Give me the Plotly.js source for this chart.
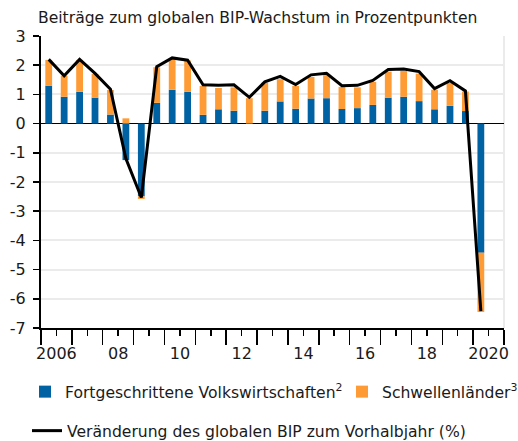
<!DOCTYPE html>
<html>
<head>
<meta charset="utf-8">
<script src="https://cdn.plot.ly/plotly-3.0.1.min.js"></script>
<style>html,body{margin:0;padding:0;background:#fff;}#chart{width:518px;height:441px;}</style>
</head>
<body>
<div id="chart"></div>
<script>
// Half-year periods
const periods = ['2006-H1','2006-H2','2007-H1','2007-H2','2008-H1','2008-H2','2009-H1','2009-H2',
  '2010-H1','2010-H2','2011-H1','2011-H2','2012-H1','2012-H2','2013-H1','2013-H2','2014-H1','2014-H2',
  '2015-H1','2015-H2','2016-H1','2016-H2','2017-H1','2017-H2','2018-H1','2018-H2','2019-H1','2019-H2','2020-H1'];
// Contributions of advanced economies (percentage points)
const advanced = [1.30,0.92,1.09,0.89,0.31,-1.25,-2.49,0.71,1.16,1.09,0.30,0.49,0.44,0.00,0.44,0.76,0.51,0.86,
  0.87,0.50,0.53,0.64,0.89,0.92,0.77,0.49,0.61,0.43,-4.42];
// Contributions of emerging economies (percentage points)
const emerging = [0.88,0.72,1.09,0.81,0.84,0.18,-0.09,1.22,1.05,1.07,0.99,0.73,0.80,0.87,0.96,0.76,0.78,0.74,
  0.79,0.76,0.71,0.79,0.89,0.88,0.94,0.67,0.78,0.67,-2.03];
// Change of global GDP vs previous half-year (%)
const globalGdp = [2.20,1.64,2.20,1.72,1.18,-1.20,-2.53,1.95,2.25,2.17,1.33,1.31,1.33,0.90,1.43,1.62,1.34,1.67,
  1.72,1.30,1.31,1.48,1.85,1.87,1.78,1.20,1.47,1.12,-6.42];
// Axis labels
const yTickVals = [-7,-6,-5,-4,-3,-2,-1,0,1,2,3];
const yTickText = ['-7','-6','-5','-4','-3','-2','-1','0','1','2','3'];
const xLabelYears = [2006,2008,2010,2012,2014,2016,2018,2020];
const xLabelText = ['2006','08','10','12','14','16','18','2020'];
const seriesNames = ['Fortgeschrittene Volkswirtschaften<sup>2</sup>','Schwellenländer<sup>3</sup>',
  'Veränderung des globalen BIP zum Vorhalbjahr (%)'];
const chartTitle = 'Beiträge zum globalen BIP-Wachstum in Prozentpunkten';

const xPos = periods.map(p => {
  const [y, h] = p.split('-');
  return Number(y) + (h === 'H1' ? 0.25 : 0.75);
});

const FONT = 'DejaVu Sans';
const TXT = '#1a1a1a';
const BLUE = '#0062a2';
const ORANGE = '#ff9b35';

const traces = [
  {type:'bar', x:xPos, y:advanced, name:seriesNames[0], marker:{color:BLUE}, width:0.22, legend:'legend', hoverinfo:'skip'},
  {type:'bar', x:xPos, y:emerging, name:seriesNames[1], marker:{color:ORANGE}, width:0.22, legend:'legend3', hoverinfo:'skip'},
  {type:'scatter', mode:'lines', x:xPos, y:globalGdp, xaxis:'x2', name:seriesNames[2],
   line:{color:'#000', width:3}, legend:'legend2', hoverinfo:'skip'}
];

const legendBase = (x, yPix) => ({orientation:'h', xref:'container', yref:'container', x:x/518, xanchor:'left',
  y:1-yPix/441, yanchor:'middle', font:{family:FONT, size:15.6, color:TXT}, bgcolor:'rgba(0,0,0,0)'});

const layout = {
  width:518, height:441,
  margin:{l:41, r:14, t:36, b:113},
  paper_bgcolor:'#fff', plot_bgcolor:'#fff',
  font:{family:FONT, size:16, color:TXT},
  barmode:'relative',
  title:{text:chartTitle, x:38/518, xanchor:'left', xref:'container', y:1-12/441, yanchor:'top', yref:'container',
    font:{family:FONT, size:15.6, color:TXT}},
  xaxis:{range:[2006,2021], tick0:2006, dtick:1, ticks:'outside', ticklen:15, tickwidth:1.5, tickcolor:'#000',
    showticklabels:false, showline:true, linecolor:'#000', linewidth:2, showgrid:false, zeroline:false,
    minor:{tick0:2006, dtick:0.5, ticks:'outside', ticklen:6, tickwidth:1.5, tickcolor:'#000', showgrid:false}},
  xaxis2:{range:[2006,2021], overlaying:'x', anchor:'y', side:'bottom', tickmode:'array',
    tickvals:xLabelYears.map(y => y + 0.5), ticktext:xLabelText, ticks:'', showline:false, showgrid:false,
    zeroline:false, ticklabelstandoff:14, tickfont:{family:FONT, size:16, color:TXT}},
  yaxis:{range:[-7,3], tickmode:'array', tickvals:yTickVals, ticktext:yTickText, ticks:'outside', ticklen:6,
    tickwidth:1.5, tickcolor:'#000', showline:true, linecolor:'#000', linewidth:2, gridcolor:'#ebebeb', gridwidth:2,
    zeroline:true, zerolinecolor:'#000', zerolinewidth:1.5, ticklabelstandoff:4,
    tickfont:{family:FONT, size:16, color:TXT}},
  shapes:[{type:'line', xref:'paper', yref:'paper', x0:1, x1:1, y0:0, y1:1, line:{color:'#ebebeb', width:2}, layer:'below'}],
  legend:legendBase(25, 392),
  legend3:legendBase(342, 392),
  legend2:legendBase(27, 431),
  showlegend:true
};

Plotly.newPlot('chart', traces, layout, {displayModeBar:false, staticPlot:true});
</script>
</body>
</html>
